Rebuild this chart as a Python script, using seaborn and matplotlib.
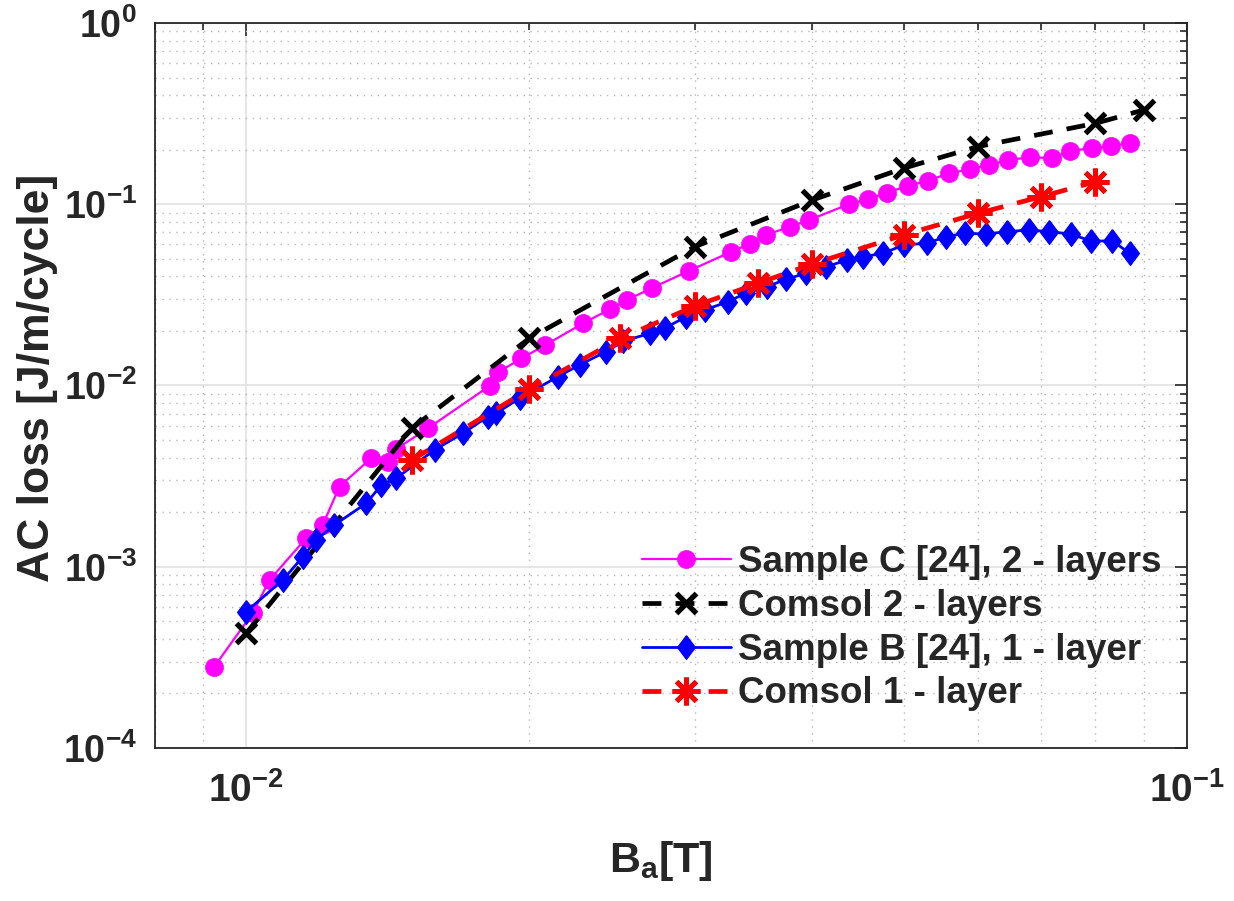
# coding: utf-8
# AC loss vs applied field, measured samples against Comsol runs (log-log)

import numpy as np
import pandas as pd
import matplotlib
matplotlib.use("Agg")
import matplotlib.pyplot as plt
import seaborn as sns
from matplotlib.ticker import FuncFormatter, NullFormatter, LogLocator

# ---- data ----
sample_c_x = [0.00925, 0.01016, 0.01059, 0.01158, 0.01206, 0.01257, 0.01358, 0.01415, 0.01444, 0.01561,
              0.01815, 0.01852, 0.01962, 0.0208, 0.0228, 0.02435, 0.0254, 0.02698, 0.0296, 0.0328,
              0.0343, 0.0357, 0.0379, 0.0397, 0.0438, 0.0458, 0.0480, 0.0505, 0.0531, 0.0559,
              0.0588, 0.0617, 0.0646, 0.0682, 0.0720, 0.0751, 0.0794, 0.0830, 0.0870]
sample_c_y = [2.81e-4, 5.54e-4, 8.45e-4, 1.435e-3, 1.70e-3, 2.77e-3, 3.97e-3, 3.80e-3, 4.46e-3, 5.81e-3,
              9.94e-3, 1.18e-2, 1.41e-2, 1.67e-2, 2.20e-2, 2.63e-2, 2.96e-2, 3.44e-2, 4.30e-2, 5.47e-2,
              6.04e-2, 6.77e-2, 7.52e-2, 8.19e-2, 0.1003, 0.1065, 0.1158, 0.126, 0.135, 0.148,
              0.156, 0.165, 0.175, 0.182, 0.179, 0.197, 0.204, 0.210, 0.217]

comsol2_x = [0.01, 0.015, 0.02, 0.03, 0.04, 0.05, 0.06, 0.08, 0.09]
comsol2_y = [4.29e-4, 5.80e-3, 1.82e-2, 5.83e-2, 0.1055, 0.158, 0.208, 0.2795, 0.331]

sample_b_x = [0.0100, 0.01094, 0.01149, 0.01187, 0.01241, 0.01342, 0.01392, 0.01444, 0.01586, 0.01700,
              0.01807, 0.01845, 0.01953, 0.02146, 0.02263, 0.02415, 0.02515, 0.02686, 0.02786, 0.02938,
              0.03073, 0.03253, 0.0340, 0.0358, 0.03747, 0.03936, 0.0414, 0.0435, 0.0453, 0.0476,
              0.0500, 0.0529, 0.0555, 0.0581, 0.0612, 0.0644, 0.0680, 0.0714, 0.0753, 0.0791,
              0.0834, 0.0870]
sample_b_y = [5.65e-4, 8.45e-4, 1.136e-3, 1.405e-3, 1.70e-3, 2.24e-3, 2.82e-3, 3.08e-3, 4.41e-3, 5.45e-3,
              6.73e-3, 7.03e-3, 8.50e-3, 1.12e-2, 1.30e-2, 1.54e-2, 1.75e-2, 1.94e-2, 2.07e-2, 2.40e-2,
              2.61e-2, 2.90e-2, 3.23e-2, 3.51e-2, 3.85e-2, 4.16e-2, 4.52e-2, 4.92e-2, 5.14e-2, 5.36e-2,
              5.96e-2, 6.09e-2, 6.62e-2, 6.91e-2, 6.85e-2, 7.06e-2, 7.21e-2, 7.06e-2, 6.85e-2, 6.27e-2,
              6.27e-2, 5.36e-2]

comsol1_x = [0.015, 0.02, 0.025, 0.03, 0.035, 0.04, 0.05, 0.06, 0.07, 0.08]
comsol1_y = [3.88e-3, 9.53e-3, 1.82e-2, 2.74e-2, 3.66e-2, 4.68e-2, 6.77e-2, 8.91e-2, 0.110, 0.133]

labels = ["Sample C [24], 2 - layers", "Comsol 2 - layers",
          "Sample B [24], 1 - layer", "Comsol 1 - layer"]

sns.set_style("white")
plt.rcParams['font.family'] = ['Liberation Sans', 'DejaVu Sans']
plt.rcParams['mathtext.fontset'] = 'custom'
plt.rcParams['mathtext.rm'] = 'Liberation Sans'
plt.rcParams['mathtext.bf'] = 'Liberation Sans:bold'
plt.rcParams['mathtext.it'] = 'Liberation Sans:italic'

fig = plt.figure(figsize=(12.34, 9.01), dpi=100)
ax = fig.add_axes([0.1256, 0.1698, 0.836, 0.8047])

# matlab style diamond (a bit taller than wide)
diamond = [(0, 1), (0.75, 0), (0, -1), (-0.75, 0), (0, 1)]
dash = (0, (4, 3))

sns.lineplot(x=sample_c_x, y=sample_c_y, ax=ax, color='#ff00ff', lw=1.6, marker='o', ms=13,
             markeredgecolor='#ff00ff', markeredgewidth=0.5, label=labels[0],
             estimator=None, sort=False)
sns.lineplot(x=comsol2_x, y=comsol2_y, ax=ax, color='black', lw=3.4, linestyle=dash, marker='x', ms=15,
             markeredgecolor='black', markeredgewidth=3.8, label=labels[1],
             estimator=None, sort=False)
sns.lineplot(x=sample_b_x, y=sample_b_y, ax=ax, color='#0000ff', lw=2.0, marker=diamond, ms=17,
             markeredgecolor='#0000ff', markeredgewidth=1.0, label=labels[2],
             estimator=None, sort=False)
sns.lineplot(x=comsol1_x, y=comsol1_y, ax=ax, color='#ff0000', lw=3.4, linestyle=dash, marker=(8, 2, 0), ms=20,
             markeredgecolor='#ff0000', markeredgewidth=3.5, label=labels[3],
             estimator=None, sort=False)

ax.set_xscale('log')
ax.set_yscale('log')
ax.set_xlim(0.008, 0.1)
ax.set_ylim(1e-4, 1)

ax.xaxis.set_major_locator(LogLocator(base=10, numticks=10))
ax.yaxis.set_major_locator(LogLocator(base=10, numticks=10))
ax.xaxis.set_minor_locator(LogLocator(base=10, subs=np.arange(2, 10), numticks=20))
ax.yaxis.set_minor_locator(LogLocator(base=10, subs=np.arange(2, 10), numticks=20))

def dec_fmt(v, pos):
    e = int(round(np.log10(v)))
    return r'$\mathbf{10^{%d}}$' % e

ax.xaxis.set_major_formatter(FuncFormatter(dec_fmt))
ax.yaxis.set_major_formatter(FuncFormatter(dec_fmt))
ax.xaxis.set_minor_formatter(NullFormatter())
ax.yaxis.set_minor_formatter(NullFormatter())

# grid, matlab style
ax.set_axisbelow(True)
ax.grid(which='major', color='#e2e2e2', linestyle='-', linewidth=1.2)
ax.grid(which='minor', color='#b8b8b8', linestyle=(0, (1, 4)), linewidth=1.0)

for s in ax.spines.values():
    s.set_color('#262626')
    s.set_linewidth(1.3)
ax.tick_params(which='both', direction='in', top=True, right=True, colors='#262626', width=1.2)
ax.tick_params(which='major', length=9)
ax.tick_params(which='minor', length=5)
ax.tick_params(axis='x', which='major', labelsize=28, pad=17)
ax.tick_params(axis='y', which='major', labelsize=27, pad=13)

ax.set_xlabel(r'$\mathbf{B_a[T]}$', fontsize=31, color='#262626')
ax.set_ylabel('AC loss [J/m/cycle]', fontsize=32, fontweight='bold', color='#262626')
ax.xaxis.set_label_coords(0.49, -0.125)
ax.yaxis.set_label_coords(-0.094, 0.51)

leg = ax.legend(loc='lower right', bbox_to_anchor=(0.997, 0.02), frameon=False,
                prop={'weight': 'bold', 'size': 26.5}, handlelength=2.4, handletextpad=0.2,
                labelspacing=0.24, borderaxespad=0.2)

plt.savefig("out.png", dpi=100)
